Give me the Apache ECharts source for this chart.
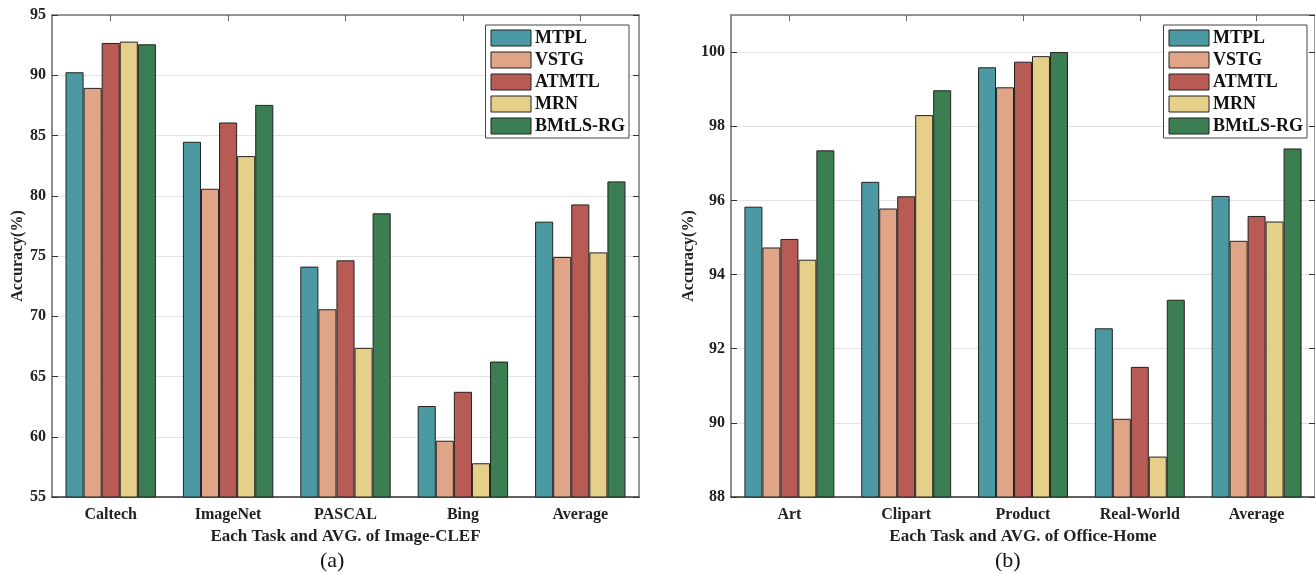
<!DOCTYPE html>
<html><head><meta charset="utf-8">
<script src="https://cdn.jsdelivr.net/npm/echarts@6/dist/echarts.min.js"></script>
<style>html,body{margin:0;padding:0;background:#fff}#c{width:1315px;height:574px}</style>
</head><body><div id="c"></div>
<script>
const methods = ['MTPL', 'VSTG', 'ATMTL', 'MRN', 'BMtLS-RG'];
const colors = ['#4B99A3', '#E0A486', '#B85B55', '#E6CF88', '#3A7E51'];

const clefTasks = ['Caltech', 'ImageNet', 'PASCAL', 'Bing', 'Average'];
const clefMTPL  = [90.25, 84.48, 74.12, 62.55, 77.85];
const clefVSTG  = [88.95, 80.58, 70.58, 59.67, 74.92];
const clefATMTL = [92.68, 86.08, 74.64, 63.73, 79.28];
const clefMRN   = [92.79, 83.29, 67.38, 57.80, 75.30];
const clefBMtLS = [92.57, 87.54, 78.54, 66.24, 81.19];

const officeTasks = ['Art', 'Clipart', 'Product', 'Real-World', 'Average'];
const officeMTPL  = [95.83, 96.50, 99.59, 92.55, 96.12];
const officeVSTG  = [94.73, 95.78, 99.05, 90.11, 94.91];
const officeATMTL = [94.96, 96.11, 99.74, 91.51, 95.58];
const officeMRN   = [94.40, 98.30, 99.89, 89.09, 95.43];
const officeBMtLS = [97.35, 98.97, 100.00, 93.32, 97.40];

const clefData = [clefMTPL, clefVSTG, clefATMTL, clefMRN, clefBMtLS];
const officeData = [officeMTPL, officeVSTG, officeATMTL, officeMRN, officeBMtLS];

const FONT = "'Liberation Serif','Times New Roman',serif";
const chart = echarts.init(document.getElementById('c'), null, {renderer: 'canvas'});

function bottomX(cats, gridIndex, name) {
  return {
    type: 'category', data: cats, gridIndex: gridIndex, position: 'bottom',
    axisLine: {show: true, lineStyle: {color: '#333', width: 1.5}},
    axisTick: {show: false},
    axisLabel: {color: '#222', fontFamily: FONT, fontWeight: 'bold', fontSize: 16, margin: 10},
    name: name, nameLocation: 'middle', nameGap: 30,
    nameTextStyle: {color: '#222', fontFamily: FONT, fontWeight: 'bold', fontSize: 17}
  };
}
function topX(cats, gridIndex) {
  return {
    type: 'category', data: cats, gridIndex: gridIndex, position: 'top',
    axisLine: {show: true, lineStyle: {color: '#777', width: 1.5}},
    axisTick: {show: true, inside: true, alignWithLabel: true, length: 6, lineStyle: {color: '#666'}},
    axisLabel: {show: false}
  };
}
function leftY(min, max, interval, gridIndex, gap) {
  return {
    type: 'value', min: min, max: max, interval: interval, gridIndex: gridIndex, position: 'left',
    axisLine: {show: true, lineStyle: {color: '#666', width: 1.5}},
    axisTick: {show: true, inside: true, length: 6, lineStyle: {color: '#333'}},
    axisLabel: {color: '#222', fontFamily: FONT, fontWeight: 'bold', fontSize: 16, margin: 6, showMaxLabel: max % interval === 0},
    splitLine: {show: true, lineStyle: {color: '#e2e2e2', width: 1}},
    name: 'Accuracy(%)', nameLocation: 'middle', nameGap: gap,
    nameTextStyle: {color: '#222', fontFamily: FONT, fontWeight: 'bold', fontSize: 16}
  };
}
function rightY(min, max, interval, gridIndex) {
  return {
    type: 'value', min: min, max: max, interval: interval, gridIndex: gridIndex, position: 'right',
    axisLine: {show: true, lineStyle: {color: '#777', width: 1.5}},
    axisTick: {show: true, inside: true, length: 6, lineStyle: {color: '#333'}},
    axisLabel: {show: false}, splitLine: {show: false}
  };
}

const series = [];
methods.forEach((m, i) => {
  series.push({
    name: m, type: 'bar', xAxisIndex: 0, yAxisIndex: 0, data: clefData[i],
    barGap: '0%', barCategoryGap: '23%',
    itemStyle: {color: colors[i], borderColor: '#222', borderWidth: 1}
  });
});
methods.forEach((m, i) => {
  series.push({
    name: m, type: 'bar', xAxisIndex: 2, yAxisIndex: 2, data: officeData[i],
    barGap: '0%', barCategoryGap: '23%',
    itemStyle: {color: colors[i], borderColor: '#222', borderWidth: 1}
  });
});

function legend(right) {
  return {
    data: methods, orient: 'vertical', right: right, top: 25,
    itemWidth: 40, itemHeight: 16, itemGap: 4,
    padding: [4, 4, 3, 5],
    backgroundColor: '#fff', borderColor: '#444', borderWidth: 1, borderRadius: 0,
    icon: 'rect',
    itemStyle: {borderColor: '#222', borderWidth: 1},
    textStyle: {color: '#111', fontFamily: FONT, fontWeight: 'bold', fontSize: 18, padding: [0, 0, 0, -1]},
    selectedMode: false
  };
}

chart.setOption({
  backgroundColor: '#fff',
  animation: false,
  textStyle: {fontFamily: FONT},
  grid: [
    {left: 52, right: 676, top: 15, bottom: 77},
    {left: 52, right: 676, top: 15, bottom: 77},
    {left: 731, right: -1, top: 15, bottom: 77},
    {left: 731, right: -1, top: 15, bottom: 77}
  ],
  xAxis: [
    bottomX(clefTasks, 0, 'Each Task and AVG. of Image-CLEF'),
    topX(clefTasks, 1),
    bottomX(officeTasks, 2, 'Each Task and AVG. of Office-Home'),
    topX(officeTasks, 3)
  ],
  yAxis: [
    leftY(55, 95, 5, 0, 25),
    rightY(55, 95, 5, 1),
    leftY(88, 101, 2, 2, 31),
    rightY(88, 101, 2, 3)
  ],
  legend: [legend(686), legend(8)],
  series: series,
  graphic: [
    {type: 'text', left: 320, top: 550, style: {text: '(a)', font: "22px 'Liberation Serif', serif", fill: '#111'}},
    {type: 'text', left: 995, top: 550, style: {text: '(b)', font: "22px 'Liberation Serif', serif", fill: '#111'}}
  ]
});
</script></body></html>
